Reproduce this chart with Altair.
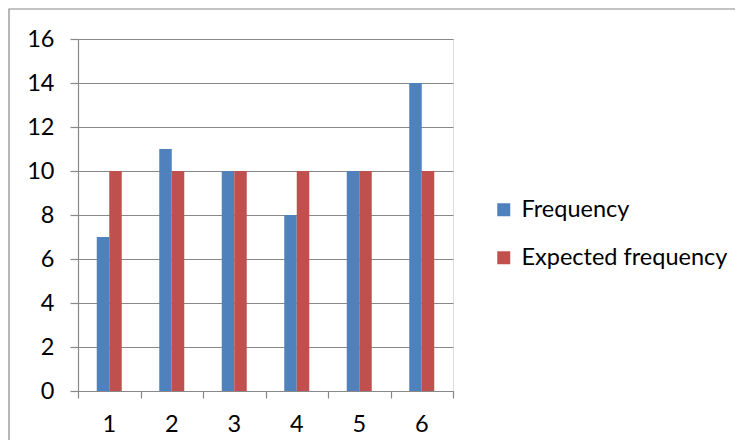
import altair as alt
import pandas as pd

categories = ["1", "2", "3", "4", "5", "6"]
frequency = [7, 11, 10, 8, 10, 14]
expected = [10, 10, 10, 10, 10, 10]
series_names = ["Frequency", "Expected frequency"]
y_ticks = [0, 2, 4, 6, 8, 10, 12, 14, 16]
boundaries = [0, 1, 2, 3, 4, 5, 6]

rows = []
for c, f, e in zip(categories, frequency, expected):
    rows.append({"cat": c, "series": series_names[0], "value": f})
    rows.append({"cat": c, "series": series_names[1], "value": e})
df = pd.DataFrame(rows)

FONT = "Lato"
FS = 23.5
GRAY = "#888888"

bars = alt.Chart(df).mark_bar(strokeWidth=0).encode(
    x=alt.X("cat:N", sort=categories,
            scale=alt.Scale(paddingInner=0.6, paddingOuter=0.3),
            axis=alt.Axis(title=None, labelAngle=0, ticks=False, tickSize=0, domain=False,
                          labelPadding=21, labelFontSize=FS, labelFont=FONT, labelColor="black",
                          grid=False)),
    xOffset=alt.XOffset("series:N", sort=series_names, scale=alt.Scale(paddingInner=0, paddingOuter=0)),
    y=alt.Y("value:Q", scale=alt.Scale(domain=[0, 16], nice=False),
            axis=alt.Axis(title=None, values=y_ticks, grid=True, gridColor=GRAY, gridWidth=1.2,
                          domainColor=GRAY, domainWidth=1.2, tickColor=GRAY, tickWidth=1.2, tickSize=8,
                          labelPadding=16, labelFontSize=FS, labelFont=FONT, labelColor="black")),
    color=alt.Color("series:N", sort=series_names,
                    scale=alt.Scale(domain=series_names, range=["#4F81BD", "#C0504D"]),
                    legend=alt.Legend(title=None, orient="none", legendX=414, legendY=159,
                                      symbolType="square", symbolSize=169, symbolStrokeWidth=0,
                                      symbolOpacity=1, labelFontSize=FS, labelFont=FONT,
                                      labelColor="black", rowPadding=23, labelOffset=6, padding=0,
                                      labelLimit=400)),
)

tick_df = pd.DataFrame({"t": boundaries})
ticks = alt.Chart(tick_df).mark_rule(opacity=0).encode(
    x=alt.X("t:Q", scale=alt.Scale(domain=[0, 6], nice=False),
            axis=alt.Axis(orient="bottom", title=None, values=boundaries, labels=False, grid=False,
                          ticks=True, tickSize=7, tickColor=GRAY, tickWidth=1.2,
                          domain=True, domainColor=GRAY, domainWidth=1.2)),
)

border = alt.Chart(pd.DataFrame({"a": [0]})).mark_rect(fill=None, stroke=GRAY, strokeWidth=1.2).encode(
    x=alt.value(-69), x2=alt.value(667), y=alt.value(-30), y2=alt.value(411)
)

chart = alt.layer(bars, ticks, border).resolve_scale(x="independent").properties(
    width=375, height=352,
    autosize=alt.AutoSizeParams(type="none"),
    padding={"left": 70, "top": 31, "right": 282, "bottom": 49},
).configure_view(stroke=None).configure(background="white")

chart.save("out.html", embed_options={"renderer": "svg", "actions": False})
